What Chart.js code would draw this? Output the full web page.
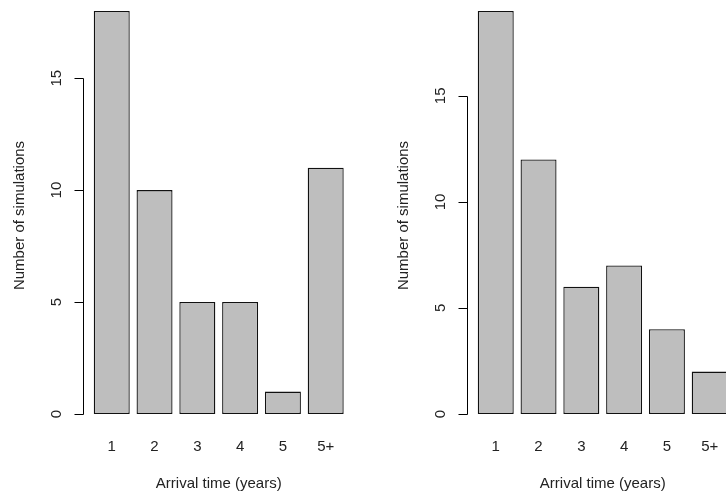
<!DOCTYPE html>
<html>
<head>
<meta charset="utf-8">
<script src="https://cdn.jsdelivr.net/npm/chart.js@4/dist/chart.umd.min.js"></script>
<style>
  html, body { margin: 0; padding: 0; background: #fff; overflow: hidden; }
  #wrap { position: relative; width: 726px; height: 498px; overflow: hidden; }
  .panel { position: absolute; top: 0; width: 384px; height: 498px; }
</style>
</head>
<body>
<div id="wrap">
  <div class="panel" style="left:0"><canvas id="leftChart" width="384" height="498"></canvas></div>
  <div class="panel" style="left:384px"><canvas id="rightChart" width="384" height="498"></canvas></div>
</div>
<script>
const arrivalLabels = ["1", "2", "3", "4", "5", "5+"];
const leftCounts = [18, 10, 5, 5, 1, 11];
const rightCounts = [19, 12, 6, 7, 4, 2];
const yTicks = [0, 5, 10, 15];

const fontFamily = "'Liberation Sans', Arial, sans-serif";
const textColor = "#222";

// R-style y axis: line only spans the tick range, labels turned 90 degrees
const rAxisPlugin = {
  id: "rAxis",
  afterDraw(chart) {
    const { ctx, chartArea } = chart;
    const y = chart.scales.y;
    const axisX = Math.round(chartArea.left - 7) + 0.5;
    const top = Math.round(y.getPixelForValue(yTicks[yTicks.length - 1])) + 0.5;
    const bottom = Math.round(y.getPixelForValue(yTicks[0])) + 0.5;

    ctx.save();
    ctx.strokeStyle = "#000";
    ctx.lineWidth = 1;
    ctx.beginPath();
    ctx.moveTo(axisX, top);
    ctx.lineTo(axisX, bottom);
    yTicks.forEach((v) => {
      const py = Math.round(y.getPixelForValue(v)) + 0.5;
      ctx.moveTo(axisX, py);
      ctx.lineTo(axisX - 9, py);
    });
    ctx.stroke();

    ctx.fillStyle = textColor;
    ctx.font = "15px " + fontFamily;
    ctx.textAlign = "center";
    ctx.textBaseline = "middle";
    yTicks.forEach((v) => {
      ctx.save();
      ctx.translate(axisX - 27, y.getPixelForValue(v));
      ctx.rotate(-Math.PI / 2);
      ctx.fillText(String(v), 0, 0);
      ctx.restore();
    });

    ctx.translate(axisX - 63.5, (chartArea.top + chartArea.bottom) / 2 + 3);
    ctx.rotate(-Math.PI / 2);
    ctx.fillText("Number of simulations", 0, 0);
    ctx.restore();
  },
};

const makeChart = (canvasId, counts) =>
  new Chart(document.getElementById(canvasId), {
    type: "bar",
    data: {
      labels: arrivalLabels,
      datasets: [
        {
          data: counts,
          backgroundColor: "#bebebe",
          borderColor: "#111",
          borderWidth: 1.3,
          borderSkipped: false,
          barPercentage: 0.841,
          categoryPercentage: 1,
        },
      ],
    },
    options: {
      responsive: false,
      devicePixelRatio: 1,
      animation: false,
      layout: {
        padding: { left: 90.35, right: 36.9, top: 11, bottom: 0 },
      },
      scales: {
        x: {
          grid: { display: false, drawTicks: false },
          border: { display: false },
          afterFit(scale) {
            scale.height = 84;
          },
          ticks: {
            padding: 24,
            color: textColor,
            font: { size: 15, family: fontFamily },
          },
          title: {
            display: true,
            text: "Arrival time (years)",
            color: textColor,
            font: { size: 15, family: fontFamily },
            padding: { top: 0, bottom: 5 },
          },
        },
        y: {
          display: false,
          min: 0,
          max: Math.max(...counts),
        },
      },
      plugins: {
        legend: { display: false },
        tooltip: { enabled: false },
      },
    },
    plugins: [rAxisPlugin],
  });

const leftChart = makeChart("leftChart", leftCounts);
const rightChart = makeChart("rightChart", rightCounts);
</script>
</body>
</html>
